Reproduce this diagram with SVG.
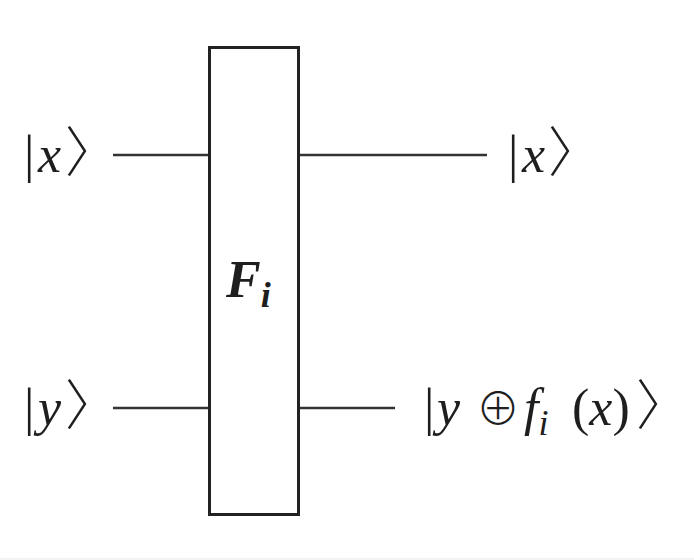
<svg xmlns="http://www.w3.org/2000/svg" width="694" height="560" viewBox="0 0 694 560">
<style>
.t{font-family:"Liberation Serif","Times New Roman",serif;font-size:52px;fill:#1e1e1e}
.i{font-style:italic}
.b{font-weight:bold;font-style:italic}
.sub{font-size:36px;font-style:italic}
.br{font-family:"Noto Sans CJK JP",sans-serif;font-weight:300;font-size:54px;font-style:normal}
.op{font-family:"Noto Sans CJK JP",sans-serif;font-weight:300;font-size:44px;font-style:normal}
.w{stroke:#333;stroke-width:2.5;fill:none}
</style>
<rect x="0" y="0" width="694" height="560" fill="#fff"/>
<rect x="0" y="558" width="694" height="2" fill="#f4f4f4"/>
<g id="connectors">
<line class="w" x1="113" y1="155" x2="209" y2="155"/>
<line class="w" x1="299" y1="155" x2="487" y2="155"/>
<line class="w" x1="113" y1="408" x2="209" y2="408"/>
<line class="w" x1="299" y1="408" x2="395" y2="408"/>
</g>
<g id="gate">
<rect x="209.5" y="47.5" width="89" height="467" fill="#fff" stroke="#222" stroke-width="3"/>
<text class="t b" x="226" y="297">F<tspan class="sub" dy="10">i</tspan></text>
</g>
<g id="in-x">
<text class="t" x="24" y="172">|<tspan class="i" x="38">x</tspan><tspan class="br" x="65">〉</tspan></text>
</g>
<g id="in-y">
<text class="t" x="24" y="425">|<tspan class="i" x="38">y</tspan><tspan class="br" x="65">〉</tspan></text>
</g>
<g id="out-x">
<text class="t" x="508" y="172">|<tspan class="i" x="522">x</tspan><tspan class="br" x="548">〉</tspan></text>
</g>
<g id="out-y">
<text class="t" x="424" y="425">|<tspan class="i" x="437">y</tspan><tspan class="op" x="476">⊕</tspan><tspan class="i" x="524">f</tspan><tspan class="sub" dy="10">i</tspan><tspan x="572" dy="-10">(</tspan><tspan class="i">x</tspan>)<tspan class="br" x="636">〉</tspan></text>
</g>
</svg>
